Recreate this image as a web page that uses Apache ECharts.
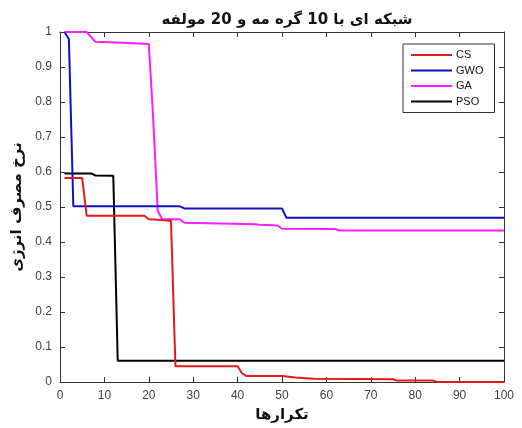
<!DOCTYPE html>
<html>
<head>
<meta charset="utf-8">
<script src="https://cdn.jsdelivr.net/npm/echarts@6/dist/echarts.min.js"></script>
<style>
  html, body { margin: 0; padding: 0; background: #fff; }
  #mainContent { width: 522px; height: 428px; }
</style>
</head>
<body>
<div id="mainContent"></div>
<script>
// داده ها: [تکرار، نرخ مصرف انرژی] در نقاط تغییر
var seriesNames = ['CS', 'GWO', 'GA', 'PSO'];
var seriesColors = ['#e41a1a', '#1010c0', '#ff1cff', '#000000'];

var csData = [[1, 0.583], [5, 0.583], [6, 0.475], [19, 0.475], [20, 0.465], [23, 0.463],
    [25, 0.46], [26, 0.045], [40, 0.045], [41, 0.025], [42, 0.017], [50, 0.017],
    [53, 0.013], [57, 0.009], [75, 0.008], [76, 0.004], [84, 0.004], [85, 0.0], [100, 0.0]];
var gwoData = [[1, 1.0], [2, 0.98], [3, 0.502], [27, 0.502], [28, 0.496], [50, 0.496],
    [51, 0.469], [100, 0.469]];
var gaData = [[1, 1.0], [6, 1.0], [8, 0.972], [14, 0.969], [20, 0.966], [21, 0.75],
    [22, 0.49], [23, 0.465], [27, 0.465], [28, 0.455], [36, 0.453], [44, 0.451],
    [45, 0.449], [49, 0.447], [50, 0.438], [62, 0.437], [63, 0.433], [100, 0.433]];
var psoData = [[1, 0.596], [7, 0.596], [8, 0.59], [12, 0.589], [13, 0.061], [100, 0.061]];

var xTicks = [0, 10, 20, 30, 40, 50, 60, 70, 80, 90, 100];
var yTicks = [0, 0.1, 0.2, 0.3, 0.4, 0.5, 0.6, 0.7, 0.8, 0.9, 1];

var myChart = echarts.init(document.getElementById('mainContent'));

var lineColor = '#333';
function axisBase() {
    return {
        axisLine: { show: true, onZero: false, lineStyle: { color: lineColor, width: 1 } },
        axisTick: { show: true, inside: true, length: 5, lineStyle: { color: lineColor } },
        splitLine: { show: false },
        axisLabel: { color: '#404040', fontSize: 12, fontFamily: 'Liberation Sans' }
    };
}

var allData = [csData, gwoData, gaData, psoData];
var series = seriesNames.map(function (name, i) {
    return {
        name: name,
        type: 'line',
        data: allData[i],
        showSymbol: false,
        symbol: 'none',
        lineStyle: { color: seriesColors[i], width: 2 },
        itemStyle: { color: seriesColors[i] },
        animation: false,
        z: 10 - i
    };
});

var option = {
    animation: false,
    title: {
        text: 'شبکه ای با 10 گره مه و 20 مولفه',
        left: 282,
        textAlign: 'center',
        top: 8,
        textStyle: { fontSize: 15, fontWeight: 'bold', fontFamily: 'DejaVu Sans', color: '#111' }
    },
    legend: {
        data: seriesNames,
        orient: 'vertical',
        left: 403,
        top: 44,
        padding: [5, 11, 5, 8],
        itemWidth: 41,
        itemHeight: 2,
        itemGap: 3.5,
        icon: 'rect',
        borderColor: '#333',
        borderWidth: 1,
        backgroundColor: '#fff',
        textStyle: { fontSize: 11, fontFamily: 'Liberation Sans', color: '#111', lineHeight: 12, padding: [0, 0, 0, -1] }
    },
    grid: { left: 60, right: 18, top: 32, bottom: 44 },
    xAxis: [
        Object.assign(axisBase(), {
            type: 'value', min: 0, max: 100, interval: 10, position: 'bottom',
            name: 'تکرارها', nameLocation: 'middle', nameGap: 26,
            nameTextStyle: { fontSize: 15, fontWeight: 'bold', fontFamily: 'DejaVu Sans', color: '#111' }
        }),
        Object.assign(axisBase(), {
            type: 'value', min: 0, max: 100, interval: 10, position: 'top',
            axisLabel: { show: false }
        })
    ],
    yAxis: [
        Object.assign(axisBase(), {
            type: 'value', min: 0, max: 1, interval: 0.1, position: 'left',
            name: 'نرخ مصرف انرژی', nameLocation: 'middle', nameGap: 32,
            nameTextStyle: { fontSize: 15, fontWeight: 'bold', fontFamily: 'DejaVu Sans', color: '#111' },
            axisLabel: {
                color: '#404040', fontSize: 12, fontFamily: 'Liberation Sans',
                formatter: function (v) { return +v.toFixed(1) + ''; }
            }
        }),
        Object.assign(axisBase(), {
            type: 'value', min: 0, max: 1, interval: 0.1, position: 'right',
            axisLabel: { show: false }
        })
    ],
    series: series
};

myChart.setOption(option);
</script>
</body>
</html>
